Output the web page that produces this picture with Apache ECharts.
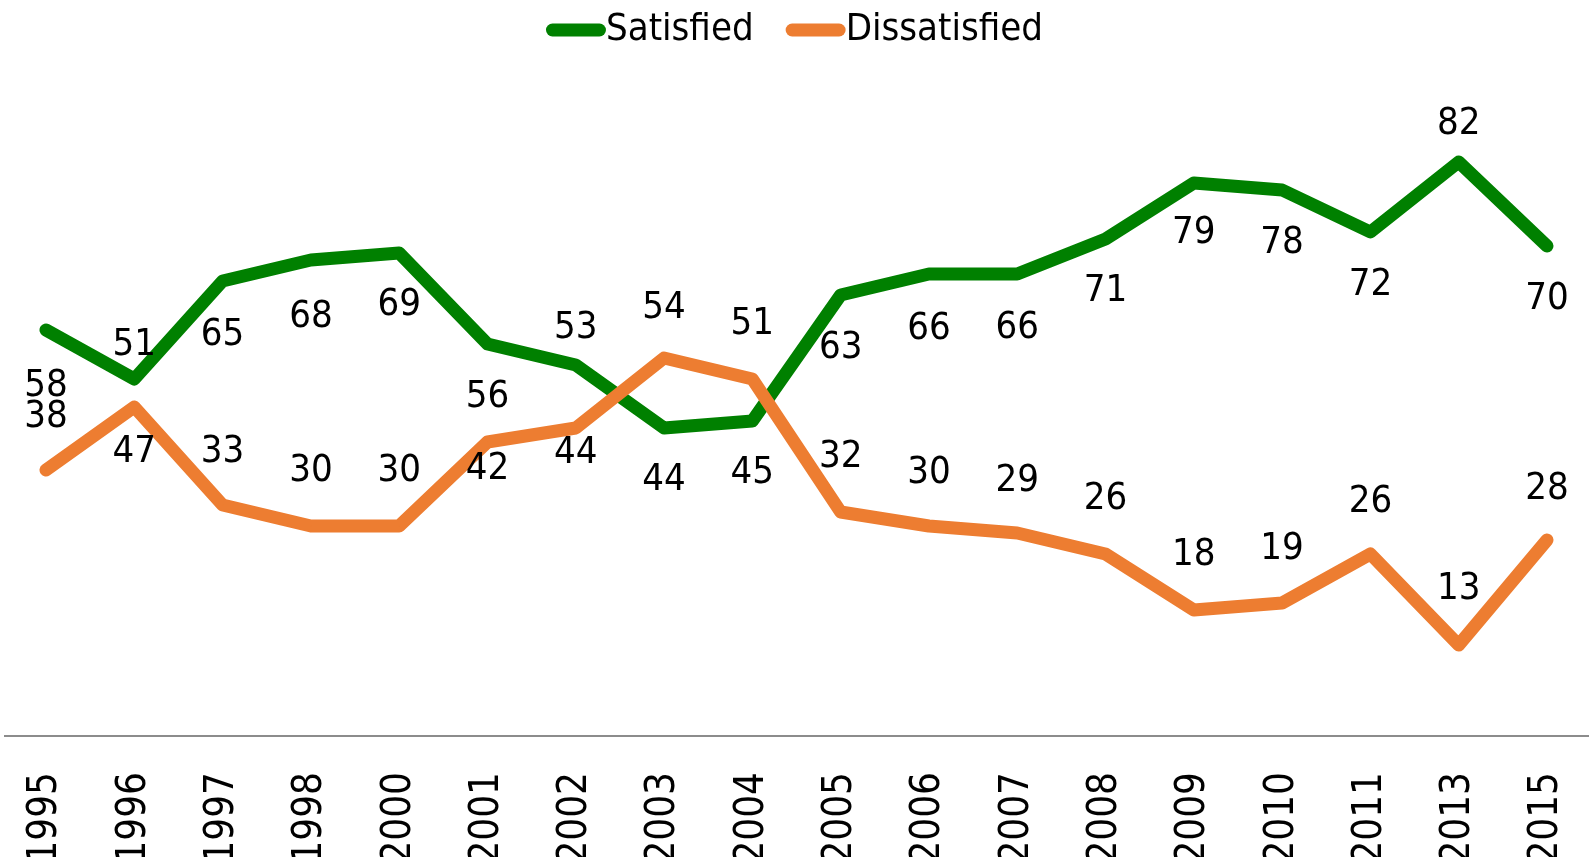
<!DOCTYPE html>
<html>
<head>
<meta charset="utf-8">
<script src="https://cdn.jsdelivr.net/npm/echarts@6/dist/echarts.min.js"></script>
<style>
  html, body { margin: 0; padding: 0; background: #fff; }
  #chart { width: 1589px; height: 857px; }
</style>
</head>
<body>
<div id="chart"></div>
<script>
var years = ["1995", "1996", "1997", "1998", "2000", "2001", "2002", "2003", "2004",
  "2005", "2006", "2007", "2008", "2009", "2010", "2011", "2013", "2015"];
var satisfied = [58, 51, 65, 68, 69, 56, 53, 44, 45, 63, 66, 66, 71, 79, 78, 72, 82, 70];
var dissatisfied = [38, 47, 33, 30, 30, 42, 44, 54, 51, 32, 30, 29, 26, 18, 19, 26, 13, 28];

// vertical label offsets from the point (px), as placed in the original
var satLabelDy = [56, -34, 54, 57, 52, 53, -37, 52, 52, 53, 55, 54, 52, 50, 53, 53, -38, 53];
var disLabelDy = [-53, 45, -53, -55, -55, 27, 25, -50, -55, -55, -53, -52, -55, -55, -54, -52, -56, -51];

var FONT = "'Liberation Sans Narrow', 'DejaVu Sans Condensed', 'Liberation Sans', sans-serif";
var GREEN = "#008000";
var ORANGE = "#ED7D31";
var CAPSULE = "path://M6.5,0H53.5A6.5,6.5,0,0,1,53.5,13H6.5A6.5,6.5,0,0,1,6.5,0Z";

function points(values, dys) {
  return values.map(function (v, i) {
    return { value: v, label: { offset: [0, dys[i]] } };
  });
}

function lineSeries(name, values, dys, color) {
  return {
    name: name,
    type: "line",
    data: points(values, dys),
    symbol: "circle",
    symbolSize: 1,
    itemStyle: { color: color },
    lineStyle: { color: color, width: 13, cap: "round", join: "round" },
    label: {
      show: true,
      position: "inside",
      color: "#000",
      fontFamily: FONT,
      fontSize: 38
    },
    emphasis: { disabled: true },
    animation: false
  };
}

var chart = echarts.init(document.getElementById("chart"), null, { renderer: "canvas" });
chart.setOption({
  backgroundColor: "#fff",
  animation: false,
  legend: {
    top: 6,
    left: "center",
    itemWidth: 60,
    itemHeight: 13,
    itemGap: 32,
    textStyle: { color: "#000", fontFamily: FONT, fontSize: 38, padding: [0, 0, 0, -5] },
    data: [
      { name: "Satisfied", icon: CAPSULE },
      { name: "Dissatisfied", icon: CAPSULE }
    ]
  },
  grid: {
    left: 46,
    right: 42,
    top: 36,
    bottom: 121,
    containLabel: false,
    outerBoundsMode: "none"
  },
  xAxis: {
    type: "category",
    data: years,
    boundaryGap: false,
    axisLine: { show: false },
    axisTick: { show: false },
    axisLabel: {
      rotate: 90,
      interval: 0,
      margin: 36,
      color: "#000",
      fontFamily: FONT,
      fontSize: 40
    }
  },
  yAxis: {
    type: "value",
    min: 0,
    max: 100,
    show: false
  },
  // the baseline runs across the whole width in the original
  graphic: [{
    type: "line",
    silent: true,
    shape: { x1: 4, y1: 736, x2: 1589, y2: 736 },
    style: { stroke: "#8c8c8c", lineWidth: 2 }
  }],
  series: [
    lineSeries("Satisfied", satisfied, satLabelDy, GREEN),
    lineSeries("Dissatisfied", dissatisfied, disLabelDy, ORANGE)
  ]
});
</script>
</body>
</html>
